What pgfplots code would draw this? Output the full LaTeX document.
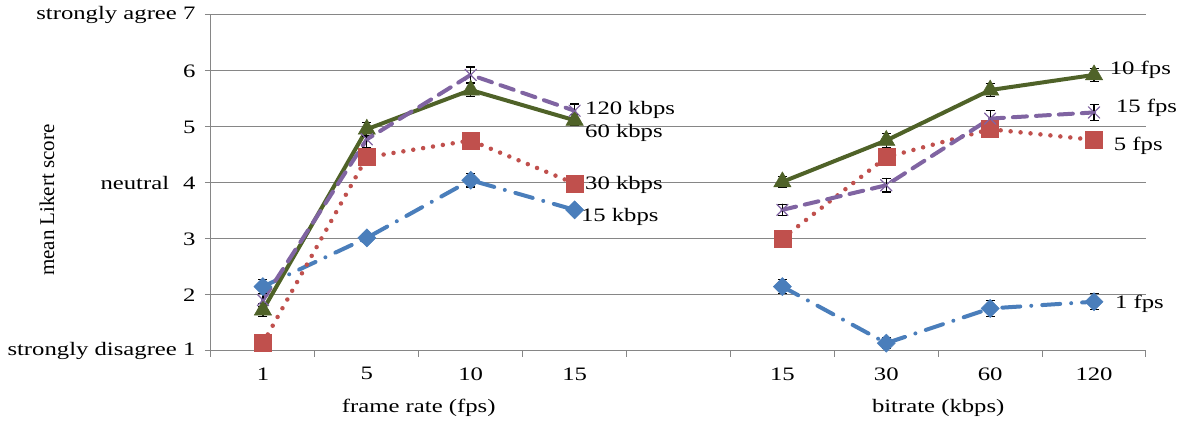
\documentclass[border=0pt]{standalone}
\usepackage{fontspec}
\setmainfont{Liberation Serif}[FakeStretch=1.3]
\newfontfamily\plainserif{Liberation Serif}
\usepackage{pgfplots}
\pgfplotsset{compat=1.18}
\definecolor{cblue}{RGB}{74,126,187}
\definecolor{cred}{RGB}{192,80,77}
\definecolor{cgreen}{RGB}{79,98,40}
\definecolor{cpurple}{RGB}{128,100,162}
\definecolor{cgrid}{RGB}{134,134,134}
\pgfplotsset{
  eb/.style={error bars/.cd, y dir=both, y explicit,
    error bar style={black, line width=1.2pt, solid},
    error mark options={rotate=90, mark size=4.5pt, black, line width=1.2pt, solid}},
  sblue/.style={color=cblue, line width=4pt, line cap=round,
    dash pattern=on 18pt off 11pt on 0pt off 11pt,
    mark=square*, mark size=6.4pt,
    mark options={solid, rotate=45, fill=cblue, draw=cblue, line width=0.5pt}, eb},
  sred/.style={color=cred, line width=4.5pt, line cap=round,
    dash pattern=on 0pt off 10pt,
    mark=square*, mark size=8.5pt,
    mark options={solid, fill=cred, draw=cred, line width=0.5pt}, eb},
  sgreen/.style={color=cgreen, line width=4pt,
    mark=triangle*, mark size=10pt,
    mark options={solid, fill=cgreen, draw=cgreen, line width=0.5pt}, eb},
  spurple/.style={color=cpurple, line width=4pt, line cap=round,
    dash pattern=on 14pt off 9pt,
    mark=x, mark size=8pt,
    mark options={solid, draw=cpurple, line width=1.2pt}, eb},
}
\begin{document}
\fontsize{19}{22}\selectfont
\begin{tikzpicture}
\useasboundingbox (-211pt,-74pt) rectangle (968pt,351pt);
\begin{axis}[
  scale only axis, width=935pt, height=336pt,
  xmin=0.5, xmax=9.5, ymin=1, ymax=7,
  axis lines=left, axis line style={-, draw=cgrid, line width=1pt},
  xtick={1,2,3,4,6,7,8,9},
  xticklabels={1,5,10,15,15,30,60,120},
  minor xtick={0.5,1.5,2.5,3.5,4.5,5.5,6.5,7.5,8.5,9.5},
  ytick={1,2,3,4,5,6,7},
  yticklabels={strongly disagree 1,2,3,neutral\hspace{14pt}4,5,6,strongly agree 7},
  tick align=outside,
  major tick length=6pt, minor tick length=6pt,
  tick style={draw=cgrid, line width=1pt},
  major x tick style={draw=none},
  ymajorgrids, grid style={draw=cgrid, line width=1pt},
  xticklabel style={font=\fontsize{19}{22}\selectfont, yshift=-4pt},
  yticklabel style={font=\fontsize{19}{22}\selectfont, align=right, xshift=-3pt},
  /pgf/number format/assume math mode=true,
  clip=false,
]
% frame rate section (series = bitrate)
\addplot[sblue] coordinates {(1,2.15)+-(0,0.12) (2,3.02)+-(0,0.08) (3,4.05)+-(0,0.12) (4,3.52)+-(0,0.08)};
\addplot[sred] coordinates {(1,1.14)+-(0,0.12) (2,4.46)+-(0,0.14) (3,4.76)+-(0,0.1) (4,3.99)+-(0,0.1)};
\addplot[sgreen] coordinates {(1,1.73)+-(0,0.12) (2,4.96)+-(0,0.12) (3,5.66)+-(0,0.12) (4,5.12)+-(0,0.1)};
\addplot[spurple] coordinates {(1,1.91)+-(0,0.12) (2,4.78)+-(0,0.14) (3,5.93)+-(0,0.14) (4,5.29)+-(0,0.12)};
% bitrate section (series = frame rate)
\addplot[sblue] coordinates {(6,2.15)+-(0,0.12) (7,1.14)+-(0,0.1) (8,1.76)+-(0,0.14) (9,1.88)+-(0,0.14)};
\addplot[sred] coordinates {(6,3.01)+-(0,0.1) (7,4.46)+-(0,0.14) (8,4.96)+-(0,0.12) (9,4.77)+-(0,0.12)};
\addplot[sgreen] coordinates {(6,4.02)+-(0,0.1) (7,4.76)+-(0,0.12) (8,5.66)+-(0,0.12) (9,5.93)+-(0,0.12)};
\addplot[spurple] coordinates {(6,3.52)+-(0,0.1) (7,3.96)+-(0,0.12) (8,5.15)+-(0,0.14) (9,5.26)+-(0,0.14)};
% series labels
\node[anchor=west, inner sep=0pt] at (axis cs:4.1,5.30) {120 kbps};
\node[anchor=west, inner sep=0pt] at (axis cs:4.1,4.89) {60 kbps};
\node[anchor=west, inner sep=0pt] at (axis cs:4.1,3.96) {30 kbps};
\node[anchor=west, inner sep=0pt] at (axis cs:4.06,3.39) {15 kbps};
\node[anchor=west, inner sep=0pt] at (axis cs:9.15,6.02) {10 fps};
\node[anchor=west, inner sep=0pt] at (axis cs:9.21,5.34) {15 fps};
\node[anchor=west, inner sep=0pt] at (axis cs:9.19,4.66) {5 fps};
\node[anchor=west, inner sep=0pt] at (axis cs:9.20,1.84) {1 fps};
% axis titles
\node at (axis cs:2.5,1) [yshift=-57pt] {frame rate (fps)};
\node at (axis cs:7.5,1) [yshift=-57pt] {bitrate (kbps)};
\node at (rel axis cs:0,0.449) [xshift=-164pt, rotate=90] {\plainserif\fontsize{21}{24}\selectfont mean Likert score};
\end{axis}
\end{tikzpicture}
\end{document}
